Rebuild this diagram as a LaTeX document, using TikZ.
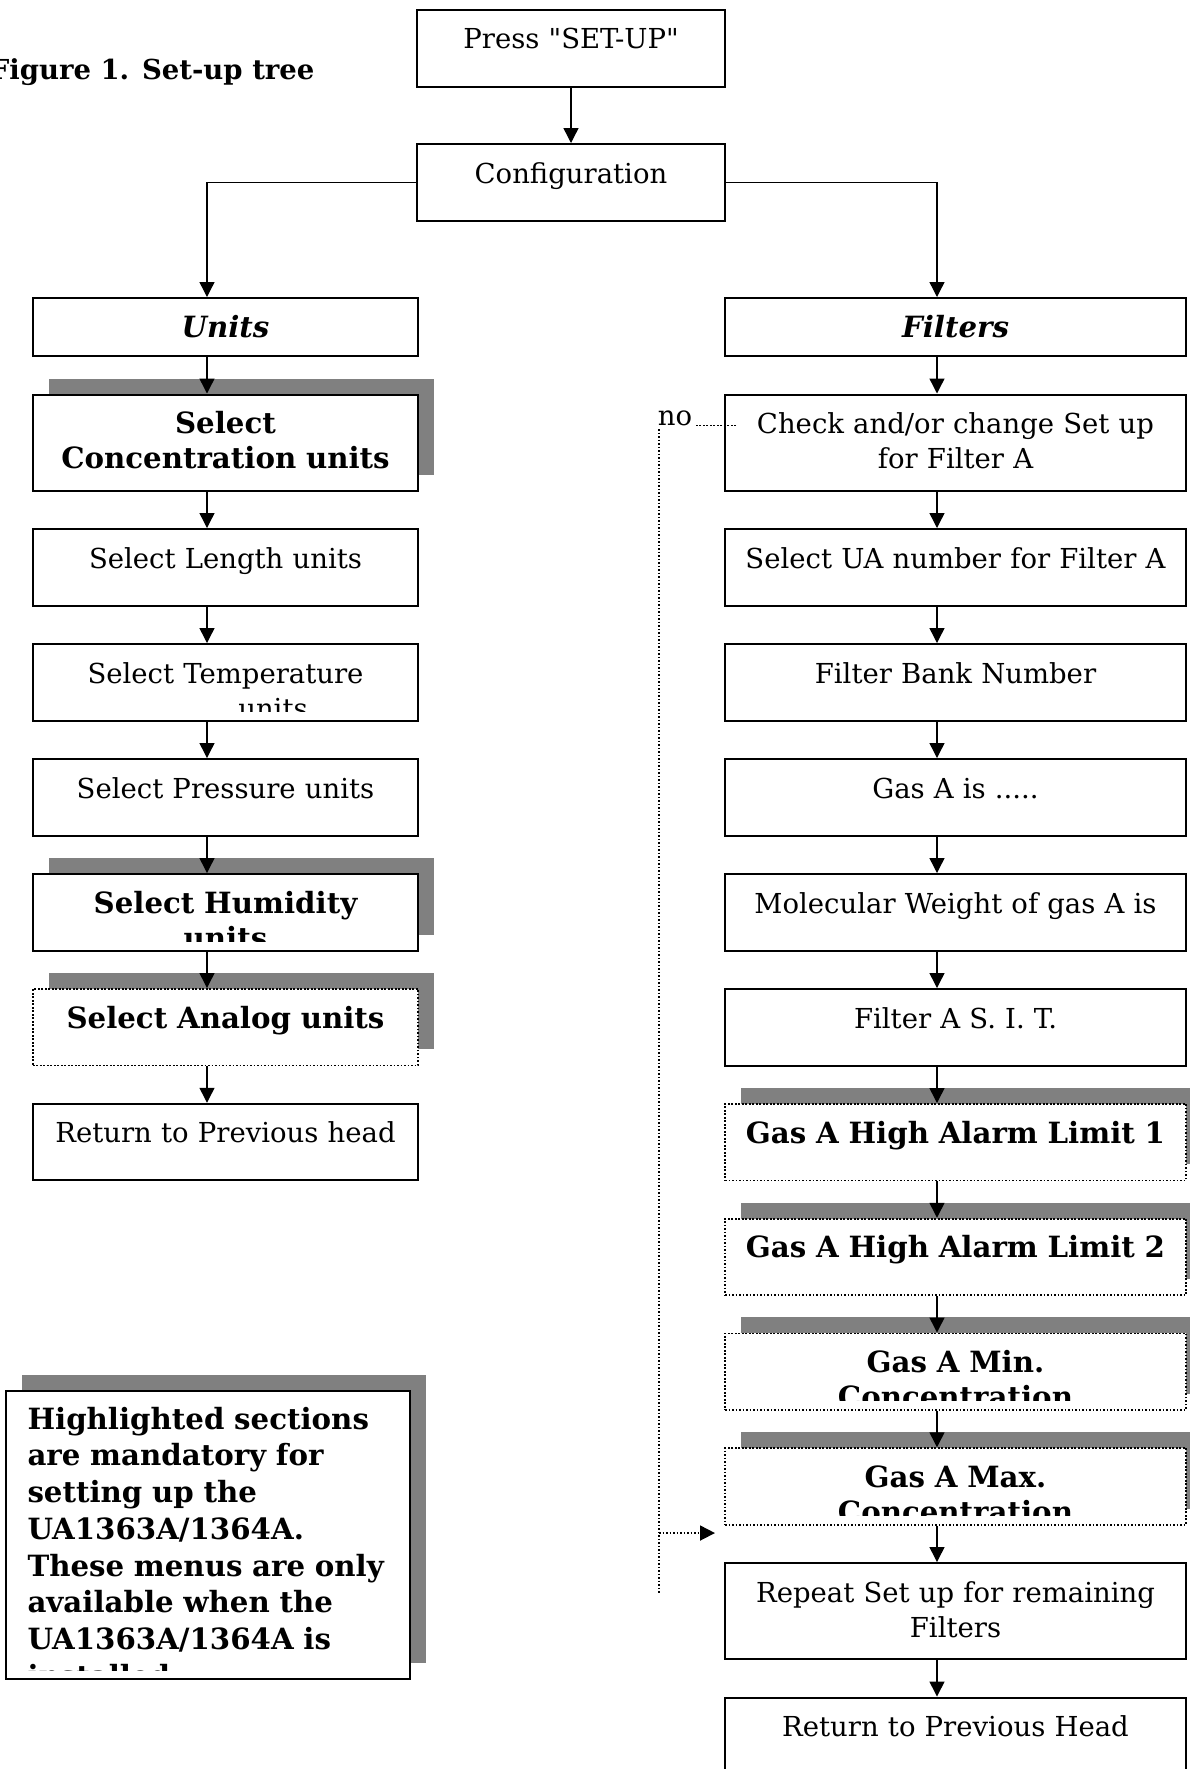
\documentclass[tikz,border=0pt]{standalone}
\usepackage{fontspec}
\setmainfont{DejaVu Serif}
\newfontfamily\recta{DejaVu Serif}
\usetikzlibrary{arrows.meta,positioning,calc,shadows}
\definecolor{sombra}{HTML}{808080}

\begin{document}
\begin{tikzpicture}[
  x=0.4pt, y=-0.4pt,
  node distance=14.6pt,
  every node/.style={font=\fontsize{11}{14}\selectfont},
  caja/.style={draw, fill=white, line width=0.8pt, inner sep=0pt,
               minimum width=154pt, minimum height=30.6pt},
  ancha/.style={caja, minimum width=184.4pt},
  corta/.style={caja, minimum width=123.2pt},
  alta/.style={minimum height=38.4pt},
  baja/.style={minimum height=23.2pt},
  resalte/.style={drop shadow={shadow xshift=6.4pt, shadow yshift=6.4pt,
                  fill=sombra, opacity=1}},
  punteada/.style={dash pattern=on 0.7pt off 0.7pt, line width=0.7pt},
  texto/.style={anchor=base, align=center, text width=200pt, inner sep=0pt},
  negrita/.style={texto, font=\fontsize{11.7}{14}\selectfont\bfseries},
  flecha/.style={-{Triangle[length=6pt,width=6pt]}, line width=0.55pt},
  lazo/.style={punteada, -{Triangle[length=6pt,width=6pt]}}
]
\useasboundingbox[fill=white] (0,0) rectangle (1189,1769);

% titulo
\node[font=\fontsize{11}{14}\selectfont\bfseries, anchor=base east, inner sep=0pt]
  (titulo) at (315,79) {Figure 1. Set-up tree};

% cabecera
\node[corta, anchor=north] (pulsar) at (571,9) {};
\node[corta, anchor=north] (config) at (571,143) {};

% columna de unidades
\node[caja, baja, anchor=north] (units) at (225.5,297) {};
\node[caja, alta, resalte, below=of units] (conc) {};
\node[caja, below=of conc] (largo) {};
\node[caja, below=of largo] (temp) {};
\node[caja, below=of temp] (presion) {};
\node[caja, resalte, below=of presion] (humedad) {};
\node[caja, resalte, punteada, below=of humedad] (analogo) {};
\node[caja, below=of analogo] (volver) {};

% columna de filtros
\node[ancha, baja, anchor=north] (filtros) at (955.5,297) {};
\node[ancha, alta, below=of filtros] (revisar) {};
\node[ancha, below=of revisar] (numua) {};
\node[ancha, below=of numua] (banco) {};
\node[ancha, below=of banco] (gasa) {};
\node[ancha, below=of gasa] (peso) {};
\node[ancha, below=of peso] (sit) {};
\node[ancha, resalte, punteada, below=of sit] (alarma1) {};
\node[ancha, resalte, punteada, below=of alarma1] (alarma2) {};
\node[ancha, resalte, punteada, below=of alarma2] (minima) {};
\node[ancha, resalte, punteada, below=of minima] (maxima) {};
\node[ancha, alta, below=of maxima] (repetir) {};
\node[ancha, below=of repetir] (volverh) {};

% nota
\node[caja, resalte, minimum width=161.6pt, minimum height=115.2pt, anchor=north]
  (nota) at (208,1390) {};

% textos
\node[texto] at ($(pulsar.north)+(0,39)$) {\recta Press "SET-UP"};
\node[texto] at ($(config.north)+(0,40)$) {Configuration};
\node[negrita, font=\fontsize{11.7}{14}\selectfont\bfseries\itshape]
  at ($(units.north)+(0,40)$) {Units};
\node[negrita] at ($(conc.north)+(0,40)$) {Select\\Concentration units};
\node[texto] at ($(largo.north)+(0,40)$) {Select Length units};
\begin{scope}
  \clip (temp.north west) rectangle ([yshift=4pt]temp.south east);
  \node[texto] at ($(temp.north)+(0,40)$) {Select Temperature\\\hspace*{38pt}units};
\end{scope}
\node[texto] at ($(presion.north)+(0,40)$) {Select Pressure units};
\begin{scope}
  \clip (humedad.north west) rectangle ([yshift=4pt]humedad.south east);
  \node[negrita] at ($(humedad.north)+(0,40)$) {Select Humidity\\units};
\end{scope}
\node[negrita] at ($(analogo.north)+(0,40)$) {Select Analog units};
\node[texto] at ($(volver.north)+(0,40)$) {Return to Previous head};

\node[negrita, font=\fontsize{11.7}{14}\selectfont\bfseries\itshape]
  at ($(filtros.north)+(0,40)$) {Filters};
\node[texto] at ($(revisar.north)+(0,40)$) {Check and/or change Set up\\for Filter A};
\node[texto] at ($(numua.north)+(0,40)$) {Select UA number for Filter A};
\node[texto] at ($(banco.north)+(0,40)$) {Filter Bank Number};
\node[texto] at ($(gasa.north)+(0,40)$) {Gas A is .....};
\node[texto] at ($(peso.north)+(0,40)$) {Molecular Weight of gas A is};
\node[texto] at ($(sit.north)+(0,40)$) {Filter A S. I. T.};
\node[negrita] at ($(alarma1.north)+(0,40)$) {Gas A High Alarm Limit 1};
\node[negrita] at ($(alarma2.north)+(0,40)$) {Gas A High Alarm Limit 2};
\begin{scope}
  \clip (minima.north west) rectangle ([yshift=4pt]minima.south east);
  \node[negrita] at ($(minima.north)+(0,40)$) {Gas A Min.\\Concentration};
\end{scope}
\begin{scope}
  \clip (maxima.north west) rectangle ([yshift=4pt]maxima.south east);
  \node[negrita] at ($(maxima.north)+(0,40)$) {Gas A Max.\\Concentration};
\end{scope}
\node[texto] at ($(repetir.north)+(0,40)$) {Repeat Set up for remaining\\Filters};
\node[texto] at ($(volverh.north)+(0,40)$) {Return to Previous Head};

\begin{scope}
  \clip (nota.north west) rectangle ([yshift=4pt]nota.south east);
  \node[anchor=base west, align=left, text width=160pt, inner sep=0pt,
        font=\fontsize{11.7}{14.7}\selectfont\bfseries] at (27,1429)
    {Highlighted sections\\are mandatory for\\setting up the\\UA1363A/1364A.\\
     These menus are only\\available when the\\UA1363A/1364A is\\installed.};
\end{scope}

% conexiones
\draw[flecha] (pulsar) -- (config);
\draw[flecha] (config.west) -| ([xshift=-7.4pt]units.north);
\draw[flecha] (config.east) -| ([xshift=-7.4pt]filtros.north);
\foreach \a/\b in {units/conc,conc/largo,largo/temp,temp/presion,presion/humedad,
                   humedad/analogo,analogo/volver,
                   filtros/revisar,revisar/numua,numua/banco,banco/gasa,gasa/peso,
                   peso/sit,sit/alarma1,alarma1/alarma2,alarma2/minima,
                   minima/maxima,maxima/repetir,repetir/volverh} {
  \draw[flecha] ([xshift=-7.4pt]\a.south) -- ([xshift=-7.4pt]\b.north);
}

% lazo "no"
\coordinate (retorno) at ($(revisar.west)+(12,-17)$);
\coordinate (fin) at (659,1593);
\coordinate (entrada) at ($(repetir.north west)+(-9,-29)$);
\draw[punteada] (retorno) -- (retorno -| fin) -- (fin);
\draw[lazo] (fin |- entrada) -- (entrada);
\node[fill=white, inner xsep=0.5pt, inner ysep=1pt, anchor=base east] (no)
  at (694,425) {no};
\end{tikzpicture}
\end{document}
